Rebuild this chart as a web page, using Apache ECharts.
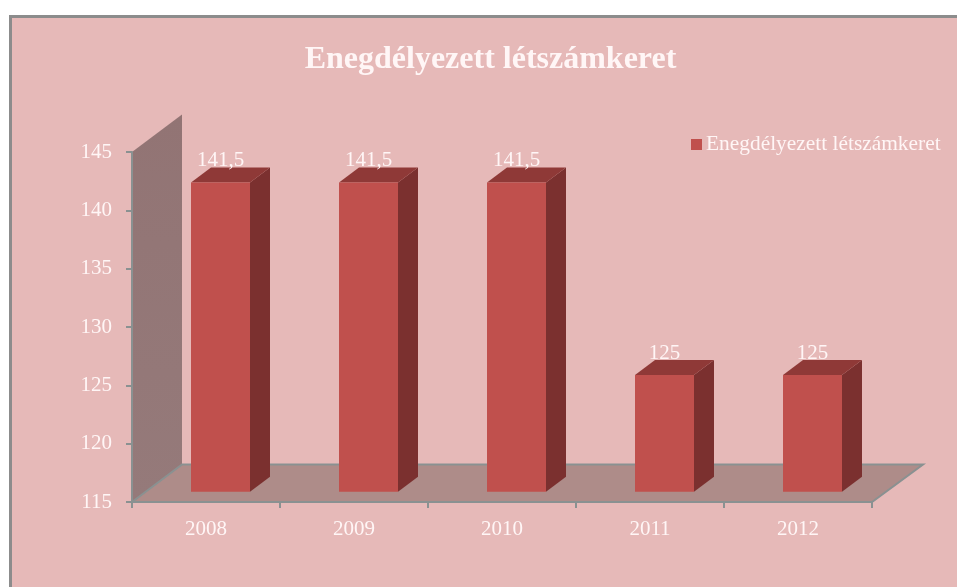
<!DOCTYPE html>
<html><head><meta charset="utf-8">
<style>html,body{margin:0;padding:0;background:#fff;overflow:hidden}#c{width:957px;height:587px}</style>
<script src="https://cdn.jsdelivr.net/npm/echarts@6/dist/echarts.min.js"></script>
</head><body><div id="c"></div>
<script>
const categories = ['2008','2009','2010','2011','2012'];
const values = [141.5,141.5,141.5,125,125];
const seriesName = 'Enegdélyezett létszámkeret';
const chartTitle = 'Enegdélyezett létszámkeret';
const yMin = 115, yMax = 145, yStep = 5;

const SERIF = '"Liberation Serif","Times New Roman",serif';
const TEXT = '#fff6f6', AXIS = '#8a9191';
const DX = 50, DY = 37.5;            // depth of the 3D box
const BAR_DX = 20, BAR_DY = 15;      // depth of a bar
const SHIFT_X = 14.5, SHIFT_Y = 10.3;// bars stand in the middle of the floor
const BAR_W = 59 / 148;

const chart = echarts.init(document.getElementById('c'), null, {renderer:'canvas'});

function renderBackdrop(params, api) {
  const a = api.coord([0, yMin]), t = api.coord([0, yMax]);
  const x0 = a[0] - api.size([1,0])[0] / 2, y0 = a[1], yt = t[1];
  const x1 = x0 + api.size([1,0])[0] * categories.length;
  return {type:'group', children:[
    {type:'polygon', shape:{points:[[x0,y0],[x0,yt],[x0+DX,yt-DY],[x0+DX,y0-DY]]},
      style:{fill:{type:'linear',x:0,y:0,x2:0,y2:1,colorStops:[{offset:0,color:'#927474'},{offset:1,color:'#957a7a'}]}}},
    {type:'polygon', shape:{points:[[x0,y0],[x0+DX,y0-DY],[x1+DX+1,y0-DY],[x1,y0]]},
      style:{fill:'#ae8c89', stroke:AXIS, lineWidth:2}}
  ]};
}

function renderBar(params, api) {
  const i = api.value(0), v = api.value(1);
  const w = api.size([1,0])[0] * BAR_W;
  const top = api.coord([i, v]), base = api.coord([i, yMin]);
  const x = top[0] + SHIFT_X - w/2, r = x + w, y = top[1] - SHIFT_Y, b = base[1] - SHIFT_Y;
  return {type:'group', children:[
    {type:'polygon', shape:{points:[[r,y],[r+BAR_DX,y-BAR_DY],[r+BAR_DX,b-BAR_DY],[r,b]]}, style:{fill:'#7b302f'}},
    {type:'polygon', shape:{points:[[x,y],[x+BAR_DX,y-BAR_DY],[r+BAR_DX,y-BAR_DY],[r,y]]}, style:{fill:'#8f3937'}},
    {type:'rect', shape:{x:x,y:y,width:w,height:b-y}, style:{fill:'#c0504d'}},
    {type:'text', x:x+w/2, y:y-22, style:{text:String(v).replace('.',','), fill:TEXT, font:'21px '+SERIF, align:'center', verticalAlign:'middle'}}
  ]};
}

chart.setOption({
  animation:false,
  backgroundColor:'#ffffff',
  graphic:[{type:'rect', z:-10, silent:true, shape:{x:10.5,y:16.5,width:960,height:600},
    style:{fill:'#e6b9b8', stroke:'#8c8c8c', lineWidth:3}}],
  title:{text:chartTitle, left:485.5, top:55, textAlign:'center', textVerticalAlign:'middle',
    textStyle:{color:TEXT, fontFamily:SERIF, fontWeight:'bold', fontSize:32}},
  legend:{data:[{name:seriesName, icon:'rect'}], left:686, top:129, itemWidth:11, itemHeight:11, itemGap:0,
    textStyle:{color:TEXT, fontFamily:SERIF, fontSize:21.4, padding:[3,0,0,-1]}},
  grid:{left:132, top:152, width:740, height:350},
  xAxis:{type:'category', data:categories, z:5,
    axisLine:{lineStyle:{color:AXIS,width:2}}, axisTick:{show:true,length:6,lineStyle:{color:AXIS,width:2}},
    axisLabel:{color:TEXT,fontFamily:SERIF,fontSize:21,margin:17}, splitLine:{show:false}},
  yAxis:{type:'value', min:yMin, max:yMax, interval:yStep, z:5,
    axisLine:{show:true,lineStyle:{color:AXIS,width:2}}, axisTick:{show:true,length:6,lineStyle:{color:AXIS,width:2}},
    axisLabel:{color:TEXT,fontFamily:SERIF,fontSize:21,margin:20,padding:[4,0,0,0]}, splitLine:{show:false}},
  series:[
    {type:'custom', name:'backdrop', z:1, silent:true, renderItem:renderBackdrop, data:[[0,yMin]], encode:{x:0,y:1}},
    {type:'custom', name:seriesName, z:3, renderItem:renderBar, itemStyle:{color:'#c0504d'},
      data:values.map((v,i)=>[i,v]), encode:{x:0,y:1}}
  ]
});
</script></body></html>
